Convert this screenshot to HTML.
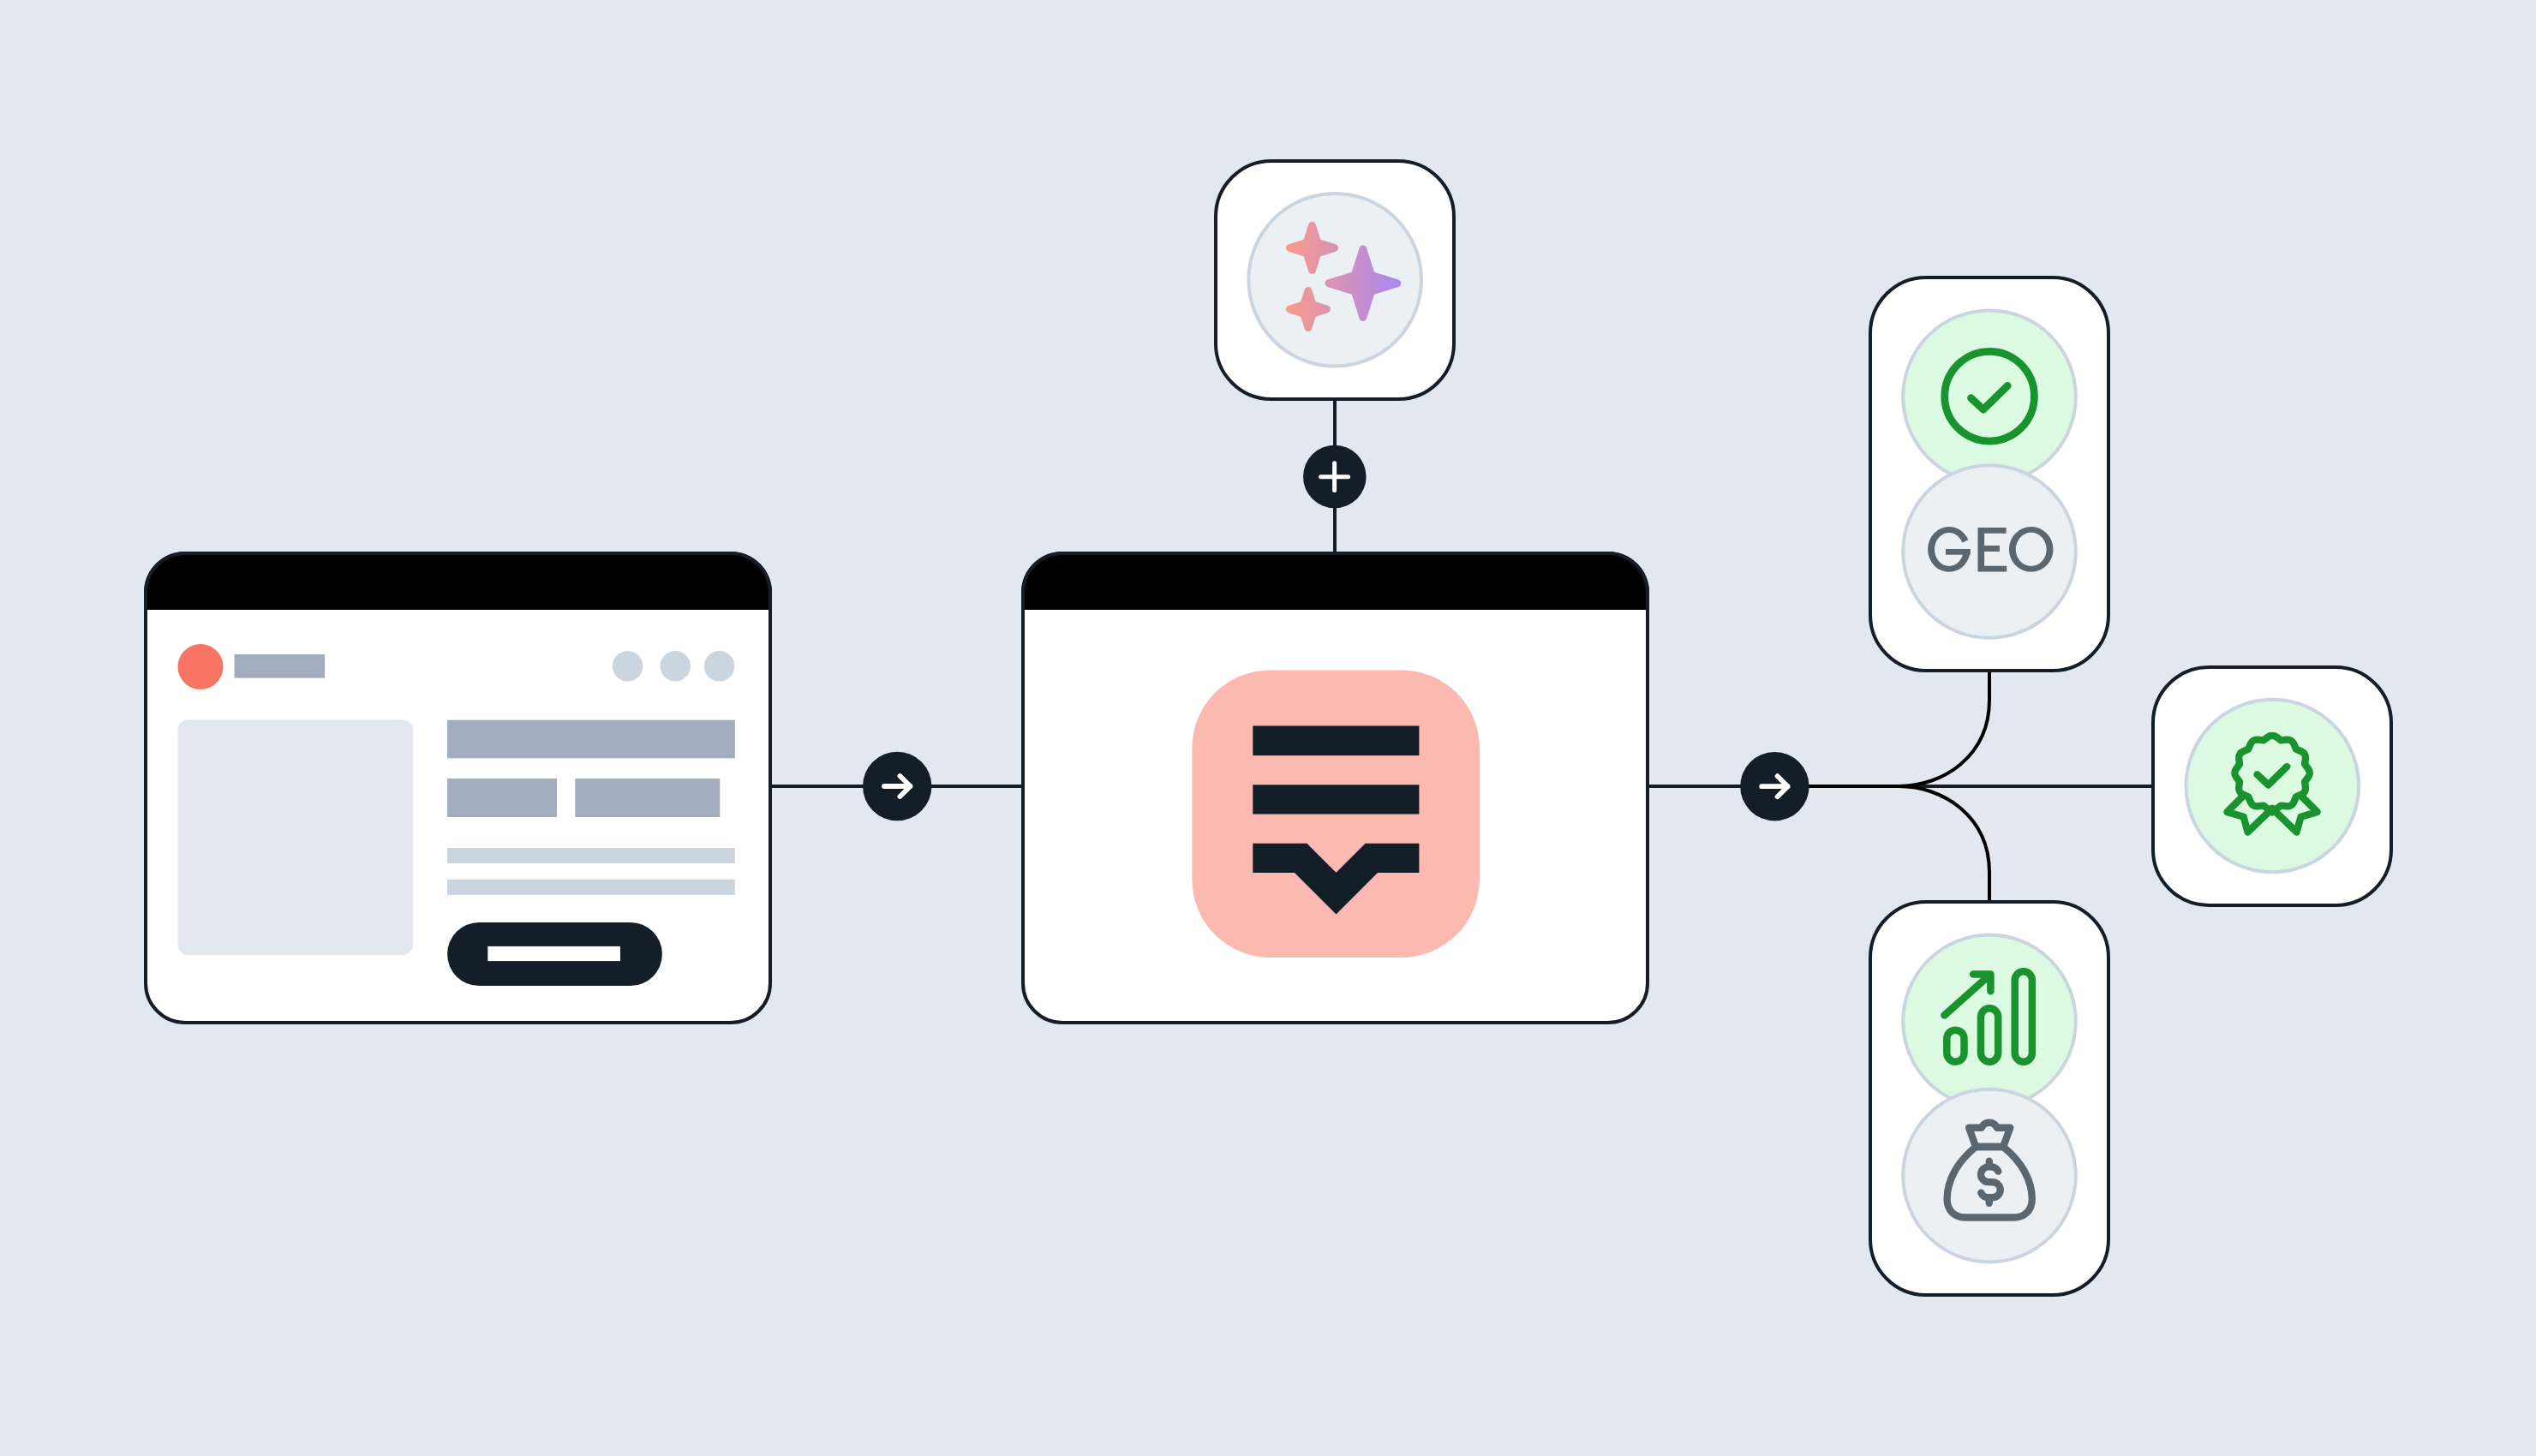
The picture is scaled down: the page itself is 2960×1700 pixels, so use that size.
<!DOCTYPE html>
<html><head><meta charset="utf-8"><title>diagram</title>
<style>
html,body{margin:0;padding:0;background:#e2e8f0;width:2960px;height:1700px;overflow:hidden;font-family:"Liberation Sans",sans-serif;}
svg{display:block;position:absolute;left:0;top:0;}
</style></head>
<body>
<svg width="2960" height="1700" viewBox="0 0 2960 1700">
<rect width="2960" height="1700" fill="#e2e8f0"/>
<line x1="899" y1="918" x2="1194" y2="918" stroke="#141e28" stroke-width="4"/>
<line x1="1923" y1="918" x2="2513" y2="918" stroke="#141e28" stroke-width="4"/>
<line x1="1558" y1="466" x2="1558" y2="646" stroke="#141e28" stroke-width="4"/>
<path d="M2108 918 H2216 C2268 918 2322 883 2322 817 V783" fill="none" stroke="#000" stroke-width="4"/>
<path d="M2216 918 C2268 918 2322 953 2322 1019 V1053" fill="none" stroke="#000" stroke-width="4"/>
<clipPath id="wc168"><rect x="168" y="644" width="733" height="552" rx="48"/></clipPath><rect x="170" y="646" width="729" height="548" rx="46" fill="#fff"/><rect x="168" y="644" width="733" height="68" fill="#000" clip-path="url(#wc168)"/><rect x="170" y="646" width="729" height="548" rx="46" fill="none" stroke="#141e28" stroke-width="4"/>
<clipPath id="wc1192"><rect x="1192" y="644" width="733" height="552" rx="48"/></clipPath><rect x="1194" y="646" width="729" height="548" rx="46" fill="#fff"/><rect x="1192" y="644" width="733" height="68" fill="#000" clip-path="url(#wc1192)"/><rect x="1194" y="646" width="729" height="548" rx="46" fill="none" stroke="#141e28" stroke-width="4"/>
<circle cx="234" cy="778.4" r="26.5" fill="#f87463"/>
<rect x="273.6" y="764" width="105.5" height="27.6" fill="#a1adbe"/>
<circle cx="732.6" cy="777.8" r="17.75" fill="#cbd5e0"/>
<circle cx="788.2" cy="777.8" r="17.75" fill="#cbd5e0"/>
<circle cx="839.6" cy="777.8" r="17.75" fill="#cbd5e0"/>
<rect x="207.7" y="840.6" width="274.4" height="274.5" rx="12" fill="#e2e8f0"/>
<rect x="522" y="840.7" width="335.8" height="44.6" fill="#a1adbe"/>
<rect x="522" y="909" width="128" height="45" fill="#a1adbe"/>
<rect x="671.3" y="909" width="169" height="45" fill="#a1adbe"/>
<rect x="522" y="990" width="335.8" height="18" fill="#cbd5e0"/>
<rect x="522" y="1027" width="335.8" height="17.8" fill="#cbd5e0"/>
<rect x="522.1" y="1077" width="250.8" height="74.1" rx="37" fill="#141e28"/>
<rect x="569.3" y="1104.9" width="154.7" height="17.2" fill="#fff"/>
<rect x="1391.4" y="782.4" width="335.5" height="335.5" rx="91" fill="#fbb9b0"/>
<rect x="1462.3" y="847.5" width="194.1" height="34.6" fill="#141e28"/>
<rect x="1462.3" y="916.3" width="194.1" height="34.2" fill="#141e28"/>
<path d="M1462.3 984.7 H1525.4 L1559.5 1018.8 L1593.6 984.7 H1656.4 V1019 H1608 L1559.5 1067.5 L1511 1019 H1462.3 Z" fill="#141e28"/>
<circle cx="1047.2" cy="918" r="40.2" fill="#141e28"/><path d="M1032 918 H1062.5 M1050.4 906 L1062.5 918 L1050.4 930" fill="none" stroke="#fff" stroke-width="5.8" stroke-linecap="round" stroke-linejoin="round"/>
<circle cx="2071.4" cy="918.2" r="40.2" fill="#141e28"/><path d="M2056.2 918.2 H2086.7 M2074.6 906.2 L2086.7 918.2 L2074.6 930.2" fill="none" stroke="#fff" stroke-width="5.8" stroke-linecap="round" stroke-linejoin="round"/>
<circle cx="1557.8" cy="556.5" r="36.8" fill="#141e28"/>
<path d="M1541.6 556.7 H1573.6 M1557.6 540.8 V572.6" fill="none" stroke="#fff" stroke-width="5" stroke-linecap="round"/>
<rect x="1419" y="188" width="278" height="278" rx="65" fill="#fff" stroke="#141e28" stroke-width="4"/>
<rect x="2183" y="324" width="278" height="459" rx="65" fill="#fff" stroke="#141e28" stroke-width="4"/>
<rect x="2513" y="779" width="278" height="278" rx="65" fill="#fff" stroke="#141e28" stroke-width="4"/>
<rect x="2183" y="1053" width="278" height="459" rx="65" fill="#fff" stroke="#141e28" stroke-width="4"/>
<circle cx="1558.2" cy="326.7" r="100.8" fill="#ebf0f5" stroke="#cbd5e1" stroke-width="4"/>
<defs><linearGradient id="sg" gradientUnits="userSpaceOnUse" x1="1501" y1="0" x2="1636" y2="0"><stop offset="0" stop-color="#fb9a88"/><stop offset="1" stop-color="#a888f4"/></linearGradient></defs>
<path d="M1590.9 290.75 L1600.45 321.15 L1630.85 330.7 L1600.45 340.25 L1590.9 370.65 L1581.35 340.25 L1550.95 330.7 L1581.35 321.15 Z" fill="url(#sg)" stroke="url(#sg)" stroke-width="8.9" stroke-linejoin="round"/>
<path d="M1531.5 263.25 L1537.75 283.15 L1557.65 289.4 L1537.75 295.65 L1531.5 315.55 L1525.25 295.65 L1505.35 289.4 L1525.25 283.15 Z" fill="url(#sg)" stroke="url(#sg)" stroke-width="8.9" stroke-linejoin="round"/>
<path d="M1526.9 339.45 L1532.05 355.85 L1548.45 361 L1532.05 366.15 L1526.9 382.55 L1521.75 366.15 L1505.35 361 L1521.75 355.85 Z" fill="url(#sg)" stroke="url(#sg)" stroke-width="8.9" stroke-linejoin="round"/>
<circle cx="2322" cy="463.2" r="100.8" fill="#dcfae2" stroke="#cbd5e1" stroke-width="4"/>
<circle cx="2322.1" cy="462.7" r="52.3" fill="none" stroke="#18932d" stroke-width="8.75"/>
<path d="M2300.5 464.7 L2314.9 478.1 L2343.2 450.3" fill="none" stroke="#18932d" stroke-width="8.75" stroke-linecap="round" stroke-linejoin="round"/>
<circle cx="2322" cy="644" r="100.8" fill="#ebf0f5" stroke="#cbd5e1" stroke-width="4"/>
<path d="M2344.9 641.45 A25.8 26.35 0 1 0 2396.5 641.45 A25.8 26.35 0 1 0 2344.9 641.45 Z M2352.75 641.45 A17.95 19.65 0 1 1 2388.65 641.45 A17.95 19.65 0 1 1 2352.75 641.45 Z" fill="#5a6771" fill-rule="evenodd"/>
<path d="M2308.5 616.1 H2341.6 V622.8 H2316.1 V637.1 H2333.9 V643.9 H2316.1 V660.7 H2342.2 V667.6 H2308.5 Z" fill="#5a6771"/>
<clipPath id="gclip"><path d="M2240 600 H2310 V624.33 L2274.9 641.05 H2310 V690 H2240 Z"/></clipPath>
<path d="M2250.1 641.45 A24.8 26.35 0 1 0 2299.7 641.45 A24.8 26.35 0 1 0 2250.1 641.45 Z M2258 641.45 A16.9 19.5 0 1 1 2291.8 641.45 A16.9 19.5 0 1 1 2258 641.45 Z" fill="#5a6771" fill-rule="evenodd" clip-path="url(#gclip)"/>
<rect x="2271" y="641" width="28.7" height="6.7" fill="#5a6771"/>
<circle cx="2652.3" cy="917.5" r="100.8" fill="#dcfae2" stroke="#cbd5e1" stroke-width="4"/>
<path d="M2641.9 864.44 L2647.3 860.4 A8 8 0 0 1 2656.9 860.4 L2662.3 864.44 L2669 863.64 A8 8 0 0 1 2677.31 868.44 L2679.96 874.64 L2686.16 877.29 A8 8 0 0 1 2690.96 885.6 L2690.16 892.3 L2694.2 897.7 A8 8 0 0 1 2694.2 907.3 L2690.16 912.7 L2690.96 919.4 A8 8 0 0 1 2686.16 927.71 L2679.96 930.36 L2677.31 936.56 A8 8 0 0 1 2669 941.36 L2662.3 940.56 L2652.1 948.5 L2641.9 940.56 L2635.2 941.36 A8 8 0 0 1 2626.89 936.56 L2624.24 930.36 L2618.04 927.71 A8 8 0 0 1 2613.24 919.4 L2614.04 912.7 L2610 907.3 A8 8 0 0 1 2610 897.7 L2614.04 892.3 L2613.24 885.6 A8 8 0 0 1 2618.04 877.29 L2624.24 874.64 L2626.89 868.44 A8 8 0 0 1 2635.2 863.64 L2641.9 864.44 Z" fill="none" stroke="#18932d" stroke-width="8.35" stroke-linejoin="round"/>
<path d="M2634.5 904.3 L2647.5 916.4 L2669.3 895.1" fill="none" stroke="#18932d" stroke-width="8.35" stroke-linecap="round" stroke-linejoin="round"/>
<path d="M2618 929.5 L2599.5 948 L2618.7 953.8 L2623.6 971.5 L2652.1 944" fill="none" stroke="#18932d" stroke-width="8.35" stroke-linecap="round" stroke-linejoin="round"/>
<path d="M2686.2 929.5 L2704.7 948 L2685.5 953.8 L2680.6 971.5 L2652.1 944" fill="none" stroke="#18932d" stroke-width="8.35" stroke-linecap="round" stroke-linejoin="round"/>
<circle cx="2322" cy="1192.4" r="100.8" fill="#dcfae2" stroke="#cbd5e1" stroke-width="4"/>
<rect x="2272.3" y="1202.65" width="20.2" height="37" rx="10.1" fill="none" stroke="#18932d" stroke-width="8.5"/>
<rect x="2312" y="1177.25" width="20.2" height="62.4" rx="10.1" fill="none" stroke="#18932d" stroke-width="8.5"/>
<rect x="2351.7" y="1134.25" width="20.2" height="105.4" rx="10.1" fill="none" stroke="#18932d" stroke-width="8.5"/>
<path d="M2269.4 1185.5 L2323.3 1137.5 M2303.2 1137.4 H2323.4 V1157.2" fill="none" stroke="#18932d" stroke-width="8.5" stroke-linecap="round" stroke-linejoin="round"/>
<circle cx="2322" cy="1372.6" r="100.8" fill="#ebf0f5" stroke="#cbd5e1" stroke-width="4"/>
<path d="M2306.1 1339 C2285 1356 2272.6 1378 2272.6 1400 C2272.6 1413 2281 1421.5 2294 1421.5 L2350.4 1421.5 C2363.4 1421.5 2371.8 1413 2371.8 1400 C2371.8 1378 2359.4 1356 2338.1 1339 Z" fill="none" stroke="#5a6771" stroke-width="8.35" stroke-linejoin="round"/>
<path d="M2298.1 1316.7 L2312.9 1316.7 A9.68 9.68 0 0 1 2330.8 1316.7 L2346.3 1316.7 L2338.1 1339 L2306.1 1339 Z" fill="none" stroke="#5a6771" stroke-width="8.35" stroke-linejoin="round"/>
<path d="M2332.3 1367.6 A8.95 8.95 0 0 0 2323.3 1362.3 L2320.95 1362.3 A8.95 8.95 0 0 0 2320.95 1380.2 L2325.75 1380.2 A8.95 8.95 0 0 1 2325.75 1398.2 L2321.3 1398.2 A8.95 8.95 0 0 1 2312.3 1392.6 M2321.8 1355.6 L2321.8 1362.3 M2321.8 1398.2 L2321.8 1404.8" fill="none" stroke="#5a6771" stroke-width="8.35" stroke-linecap="round" stroke-linejoin="round"/>
</svg>
</body></html>
